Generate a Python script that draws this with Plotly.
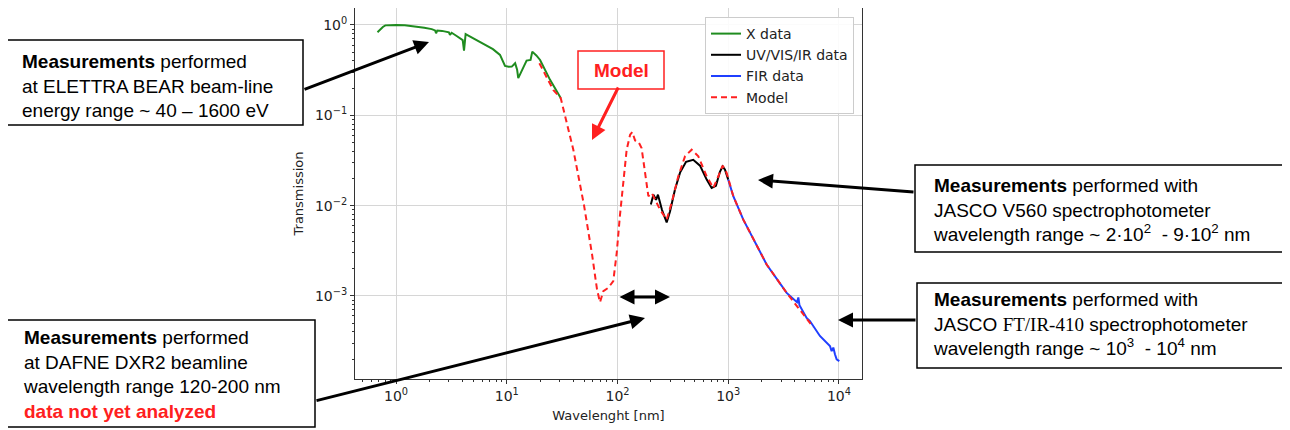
import plotly.graph_objects as go

# ---------------- data ----------------
xray_wl = [0.68, 0.70, 0.72, 0.76, 0.80, 0.90, 1.0, 1.2, 1.54, 1.8, 2.1, 2.25, 2.30, 2.36, 2.6, 2.87, 3.0,
           3.07, 3.18, 3.5, 3.78, 4.0, 4.11, 4.25, 4.5, 4.99, 5.8, 6.59, 7.5, 8.69, 9.2, 9.64, 10.4, 11.1,
           11.9, 12.4, 12.7, 13.3, 13.9, 15.1, 16.4, 17.0, 18.5, 20.0, 24.6, 30.7]
xray_T = [0.83, 0.86, 0.90, 0.95, 0.99, 1.0, 1.0, 0.995, 0.96, 0.93, 0.90, 0.87, 0.81, 0.87, 0.86, 0.844, 0.83,
          0.775, 0.82, 0.76, 0.71, 0.68, 0.52, 0.79, 0.76, 0.71, 0.65, 0.60, 0.54, 0.466, 0.40, 0.352, 0.345, 0.346,
          0.377, 0.32, 0.258, 0.29, 0.318, 0.403, 0.41, 0.507, 0.46, 0.41, 0.247, 0.155]

uv_wl = [200, 211, 223, 232, 252, 278, 298, 330, 367, 416, 483, 556, 639, 708, 774, 841, 891, 935, 1000]
uv_T = [0.0103, 0.0132, 0.0116, 0.0132, 0.0090, 0.0065, 0.0086, 0.0150, 0.0232, 0.0306, 0.0322, 0.0277,
        0.0194, 0.0157, 0.0166, 0.0237, 0.0272, 0.0250, 0.0194]

fir_wl = [1000, 1111, 1368, 1806, 2222, 3371, 4178, 4296, 4398, 5104, 5470, 6730, 8290, 8590, 8890, 9200,
          9530, 10070]
fir_T = [0.0194, 0.0127, 0.0070, 0.00355, 0.00223, 0.00108, 0.00085, 0.00096, 0.00079, 0.00057, 0.000527,
         0.00036, 0.000279, 0.000245, 0.000268, 0.000226, 0.000199, 0.00019]

model_wl = [19.7, 26.3, 30.7, 39.9, 49.9, 58.9, 65.3, 69.5, 74.5, 82.6, 91.6, 98.4, 105, 113, 121, 130, 136,
            144, 154, 165, 177, 190, 204, 218, 242, 278, 308, 354, 407, 467, 537, 639, 733, 813, 891, 968,
            1111, 1368, 1806, 2222, 3371, 5104, 5862]
model_T = [0.377, 0.191, 0.155, 0.0416, 0.0100, 0.00288, 0.00118, 0.00085, 0.00113, 0.00123, 0.00146, 0.0030,
           0.0076, 0.0178, 0.0416, 0.061, 0.0652, 0.0527, 0.0514, 0.0434, 0.0230, 0.0127, 0.0138, 0.0116,
           0.00903, 0.0070, 0.0107, 0.0211, 0.0351, 0.0416, 0.0351, 0.0211, 0.0157, 0.0211, 0.0277, 0.0230,
           0.0127, 0.0070, 0.00355, 0.00223, 0.00108, 0.00057, 0.00045]

x_tick_vals = [1, 10, 100, 1000, 10000]
x_tick_text = ["10<sup>0</sup>", "10<sup>1</sup>", "10<sup>2</sup>", "10<sup>3</sup>", "10<sup>4</sup>"]
y_tick_vals = [1e-3, 1e-2, 1e-1, 1]
y_tick_text = ["10<sup>−3</sup>", "10<sup>−2</sup>", "10<sup>−1</sup>", "10<sup>0</sup>"]

x_minor = [m * 10 ** e for e in range(-1, 5) for m in range(2, 10)]
y_minor = [m * 10 ** e for e in range(-4, 1) for m in range(2, 10)]

# ---------------- layout geometry (page pixels; page body has an 8px margin) ----------------
OFF = 8
W, H = 1290 - OFF, 430 - OFF
L, R, T, B = 355, 862, 8, 379  # plot area in page pixels


def px(xp):
    return (xp - L) / (R - L)


def py(yp):
    return (B - yp) / (B - T)


AX_FONT = "DejaVu Sans"
BOX_FONT = "Liberation Sans, Arial"

fig = go.Figure()
fig.add_trace(go.Scatter(x=xray_wl, y=xray_T, mode="lines", name="X data",
                         line=dict(color="#1f8c1f", width=2)))
fig.add_trace(go.Scatter(x=uv_wl, y=uv_T, mode="lines", name="UV/VIS/IR data",
                         line=dict(color="#000000", width=2)))
fig.add_trace(go.Scatter(x=fir_wl, y=fir_T, mode="lines", name="FIR data",
                         line=dict(color="#1f3fff", width=2)))
fig.add_trace(go.Scatter(x=model_wl, y=model_T, mode="lines", name="Model",
                         line=dict(color="#ff2020", width=2, dash="6px,4px")))

shapes = []
annotations = []

# text boxes: (left, top, right, bottom, text_left, text_center_y, text)
boxes = [
    (6, 40, 303, 125, 20, 86,
     "<b>Measurements</b> performed<br>at ELETTRA BEAR beam-line<br>energy range ~ 40 – 1600 eV"),
    (7, 320, 315, 427, 21, 374,
     "<b>Measurements</b> performed<br>at DAFNE DXR2 beamline<br>wavelength range 120-200 nm<br>"
     "<b><span style='color:#ff2020'>data not yet analyzed</span></b>"),
    (915, 165, 1289, 252, 931, 210,
     "<b>Measurements</b> performed with<br>JASCO V560 spectrophotometer<br>"
     "wavelength range ~ 2·10<sup>2</sup>  - 9·10<sup>2</sup> nm"),
    (917, 283, 1289, 368, 931, 324,
     "<b>Measurements</b> performed with<br>JASCO <span style='font-family:serif'>"
     "FT/IR-410</span> spectrophotometer<br>wavelength range ~ 10<sup>3</sup>  - 10<sup>4</sup> nm"),
]
for (l, t, r, b, tl, tc, txt) in boxes:
    shapes.append(dict(type="rect", xref="paper", yref="paper", x0=px(l), x1=px(r), y0=py(b), y1=py(t),
                       line=dict(color="#000000", width=1.5), fillcolor="white", layer="above"))
    annotations.append(dict(xref="paper", yref="paper", x=px(tl), y=py(tc), xanchor="left", yanchor="middle",
                            align="left", showarrow=False, text=txt,
                            font=dict(family=BOX_FONT, size=19, color="#000000")))

# "Model" label box
shapes.append(dict(type="rect", xref="paper", yref="paper", x0=px(578), x1=px(664), y0=py(89), y1=py(51),
                   line=dict(color="#ff2020", width=1.5), fillcolor="white", layer="above"))
annotations.append(dict(xref="paper", yref="paper", x=px(621), y=py(70), xanchor="center", yanchor="middle",
                        showarrow=False, text="<b>Model</b>",
                        font=dict(family=BOX_FONT, size=19, color="#ff2020")))

# arrows: (tail x, tail y, head x, head y, color)
arrows = [
    (303, 90, 429, 42, "#000000"),
    (315, 401, 645, 318, "#000000"),
    (915, 192, 758, 180, "#000000"),
    (917, 320, 838, 320, "#000000"),
    (619, 86, 592, 140, "#ff2020"),
]
for (tx, ty, hx, hy, c) in arrows:
    annotations.append(dict(xref="paper", yref="paper", x=px(hx), y=py(hy), ax=tx - hx, ay=ty - hy,
                            axref="pixel", ayref="pixel", text="", showarrow=True, arrowhead=2,
                            arrowsize=1, arrowwidth=3, arrowcolor=c, standoff=0))
# double-headed arrow
annotations.append(dict(xref="paper", yref="paper", x=px(670), y=py(297), ax=618 - 670, ay=0,
                        axref="pixel", ayref="pixel", text="", showarrow=True, arrowhead=2,
                        startarrowhead=2, arrowside="end+start", arrowsize=1, startarrowsize=1,
                        arrowwidth=3, arrowcolor="#000000", standoff=0, startstandoff=0))

axis_common = dict(type="log", showline=True, mirror=True, linecolor="#333333", linewidth=1,
                   showgrid=True, gridcolor="#d6d6d6", gridwidth=1, zeroline=False,
                   ticks="outside", ticklen=4, tickcolor="#333333",
                   tickfont=dict(family=AX_FONT, size=14, color="#222222"))

fig.update_layout(
    width=W, height=H,
    margin=dict(l=L - OFF, r=W - (R - OFF), t=T - OFF, b=H - (B - OFF), autoexpand=False),
    paper_bgcolor="white", plot_bgcolor="white",
    showlegend=True,
    legend=dict(x=px(854), y=py(17), xanchor="right", yanchor="top", bgcolor="rgba(255,255,255,0.9)",
                bordercolor="#cccccc", borderwidth=1,
                font=dict(family=AX_FONT, size=14, color="#222222"), tracegroupgap=0),
    xaxis=dict(axis_common, range=[-0.3706, 4.208], tickvals=x_tick_vals, ticktext=x_tick_text,
               minor=dict(tickvals=x_minor, ticks="outside", ticklen=2, tickcolor="#333333", showgrid=False),
               title=dict(text="Wavelenght [nm]", standoff=8,
                          font=dict(family=AX_FONT, size=13, color="#222222"))),
    yaxis=dict(axis_common, range=[-3.92, 0.188], tickvals=y_tick_vals, ticktext=y_tick_text,
               minor=dict(tickvals=y_minor, ticks="outside", ticklen=2, tickcolor="#333333", showgrid=False),
               title=dict(text="Transmission", standoff=8,
                          font=dict(family=AX_FONT, size=13, color="#222222"))),
    shapes=shapes,
    annotations=annotations,
)

fig.write_html("out.html")
